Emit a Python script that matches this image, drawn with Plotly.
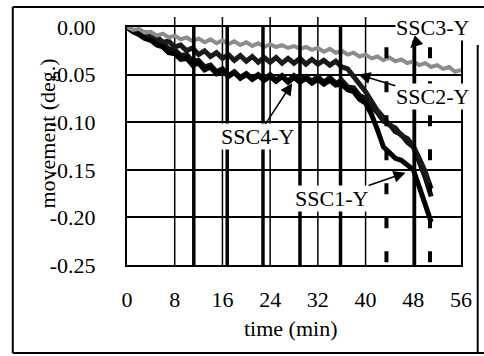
import plotly.graph_objects as go

# ---------------- data ----------------
t_dark = list(range(0, 52))  # minutes 0..51

ssc1_y = [0.000, -0.005, -0.008, -0.012, -0.014, -0.019, -0.021, -0.027, -0.028, -0.034,
          -0.033, -0.040, -0.038, -0.045, -0.042, -0.049, -0.045, -0.052, -0.048, -0.054,
          -0.050, -0.055, -0.051, -0.056, -0.052, -0.057, -0.052, -0.058, -0.053, -0.058,
          -0.054, -0.059, -0.055, -0.060, -0.056, -0.061, -0.060, -0.066, -0.068, -0.076,
          -0.080, -0.092, -0.108, -0.126, -0.132, -0.138, -0.140, -0.145, -0.150, -0.168,
          -0.188, -0.205]

ssc2_y = [-0.001, -0.003, -0.006, -0.006, -0.011, -0.010, -0.016, -0.015, -0.021, -0.019,
          -0.025, -0.022, -0.029, -0.025, -0.031, -0.027, -0.033, -0.029, -0.035, -0.030,
          -0.036, -0.031, -0.037, -0.032, -0.037, -0.032, -0.038, -0.033, -0.038, -0.033,
          -0.039, -0.034, -0.039, -0.035, -0.040, -0.036, -0.042, -0.044, -0.052, -0.058,
          -0.068, -0.078, -0.088, -0.095, -0.103, -0.106, -0.114, -0.117, -0.125, -0.138,
          -0.152, -0.170]

ssc4_y = [0.000, -0.004, -0.006, -0.010, -0.011, -0.016, -0.017, -0.023, -0.024, -0.030,
          -0.029, -0.036, -0.035, -0.042, -0.040, -0.047, -0.044, -0.051, -0.047, -0.053,
          -0.049, -0.054, -0.050, -0.055, -0.050, -0.056, -0.051, -0.057, -0.051, -0.056,
          -0.052, -0.057, -0.052, -0.058, -0.053, -0.059, -0.056, -0.063, -0.064, -0.072,
          -0.075, -0.084, -0.090, -0.099, -0.102, -0.110, -0.113, -0.121, -0.126, -0.142,
          -0.158, -0.178]

t_ssc3 = list(range(0, 57))  # minutes 0..56
ssc3_y = [0.000, -0.003, -0.002, -0.006, -0.005, -0.009, -0.007, -0.011, -0.009, -0.013,
          -0.011, -0.015, -0.012, -0.016, -0.013, -0.017, -0.014, -0.018, -0.015, -0.019,
          -0.016, -0.020, -0.017, -0.021, -0.018, -0.021, -0.019, -0.022, -0.020, -0.023,
          -0.021, -0.024, -0.022, -0.026, -0.023, -0.027, -0.025, -0.029, -0.027, -0.031,
          -0.029, -0.033, -0.031, -0.035, -0.032, -0.036, -0.034, -0.038, -0.036, -0.040,
          -0.038, -0.042, -0.040, -0.044, -0.042, -0.047, -0.045]

x_ticks = [0, 8, 16, 24, 32, 40, 48, 56]
x_tick_text = ["0", "8", "16", "24", "32", "40", "48", "56"]
y_ticks = [0.0, -0.05, -0.10, -0.15, -0.20, -0.25]
y_tick_text = ["0.00", "-0.05", "-0.10", "-0.15", "-0.20", "-0.25"]

grid_x = [8, 16, 24, 32, 40, 48]            # thin vertical grid lines
event_solid = [11.2, 16.8, 22.8, 29.0, 35.8, 48.2]  # heavy vertical marks
event_dashed = [43.5, 50.8]                  # heavy dashed marks

# label text position (time, value) and arrow tip (time, value)
labels = ["SSC3-Y", "SSC2-Y", "SSC4-Y", "SSC1-Y"]
label_pos = [(51.2, 0.0), (51.2, -0.0735), (21.8, -0.1155), (34.3, -0.180)]
arrow_tip = [(47.5, -0.022), (38.8, -0.050), (27.7, -0.059), (46.7, -0.153)]

# ---------------- figure ----------------
FONT = "Liberation Serif, Times New Roman, serif"
FS = 22
fig = go.Figure()

fig.add_trace(go.Scatter(x=t_dark, y=ssc4_y, mode="lines", name="SSC4-Y",
                         line=dict(color="#111111", width=5)))
fig.add_trace(go.Scatter(x=t_dark, y=ssc2_y, mode="lines", name="SSC2-Y",
                         line=dict(color="#1a1a1a", width=5)))
fig.add_trace(go.Scatter(x=t_dark, y=ssc1_y, mode="lines", name="SSC1-Y",
                         line=dict(color="#000000", width=5)))
fig.add_trace(go.Scatter(x=t_ssc3, y=ssc3_y, mode="lines", name="SSC3-Y",
                         line=dict(color="#8c8c8c", width=4)))

shapes = []
for gx in grid_x:
    shapes.append(dict(type="line", xref="x", yref="paper", x0=gx, x1=gx, y0=0, y1=1.042,
                       line=dict(color="black", width=1.5), layer="below"))
for ex in event_solid:
    shapes.append(dict(type="line", xref="x", yref="paper", x0=ex, x1=ex, y0=0, y1=1,
                       line=dict(color="black", width=3.5), layer="above"))
for ex in event_dashed:
    shapes.append(dict(type="line", xref="x", yref="y", x0=ex, x1=ex, y0=-0.247, y1=-0.018,
                       line=dict(color="black", width=4, dash="11px,23px"), layer="above"))
# outer figure border (scanned frame)
shapes += [
    dict(type="line", xref="paper", yref="paper", x0=-0.342, x1=-0.342, y0=1.084, y1=-0.370,
         line=dict(color="black", width=2)),
    dict(type="line", xref="paper", yref="paper", x0=-0.342, x1=1.07, y0=1.084, y1=1.084,
         line=dict(color="black", width=2)),
    dict(type="line", xref="paper", yref="paper", x0=-0.342, x1=1.07, y0=-0.370, y1=-0.370,
         line=dict(color="black", width=2)),
    dict(type="line", xref="paper", yref="paper", x0=1.05, x1=1.05, y0=0.924, y1=-0.370,
         line=dict(color="black", width=2)),
]

annotations = []
for lab, (lx, ly), (ax_, ay_) in zip(labels, label_pos, arrow_tip):
    annotations.append(dict(x=ax_, y=ay_, xref="x", yref="y",
                            ax=lx, ay=ly, axref="x", ayref="y",
                            text=lab, showarrow=True, arrowhead=2, arrowsize=1.6,
                            arrowwidth=1.5, arrowcolor="black",
                            font=dict(family=FONT, size=FS, color="black"),
                            bgcolor="white", borderpad=0))
annotations.append(dict(x=-0.238, y=0.55, xref="paper", yref="paper", text="movement (deg.)",
                        textangle=-90, showarrow=False, xanchor="center", yanchor="middle",
                        font=dict(family=FONT, size=FS, color="black")))
annotations.append(dict(x=0.491, y=-0.268, xref="paper", yref="paper", text="time (min)",
                        showarrow=False, xanchor="center", yanchor="middle",
                        font=dict(family=FONT, size=FS, color="black")))

fig.update_layout(
    width=484, height=356,
    margin=dict(l=127, r=21, t=27, b=91, pad=0),
    paper_bgcolor="white", plot_bgcolor="white",
    showlegend=False,
    font=dict(family=FONT, size=FS, color="black"),
    shapes=shapes, annotations=annotations,
)
fig.update_xaxes(range=[0, 56], tickvals=x_ticks, ticktext=x_tick_text,
                 showgrid=False, zeroline=False, showline=True, mirror=True,
                 linecolor="black", linewidth=2, ticks="", ticklabelstandoff=14,
                 tickfont=dict(family=FONT, size=FS, color="black"))
fig.update_yaxes(range=[-0.25, 0.0], tickvals=y_ticks, ticktext=y_tick_text,
                 showgrid=True, gridcolor="black", gridwidth=1.6, zeroline=False,
                 showline=True, mirror=True, linecolor="black", linewidth=2, ticks="",
                 ticklabelstandoff=25, tickfont=dict(family=FONT, size=FS, color="black"))

fig.write_html("out.html")
